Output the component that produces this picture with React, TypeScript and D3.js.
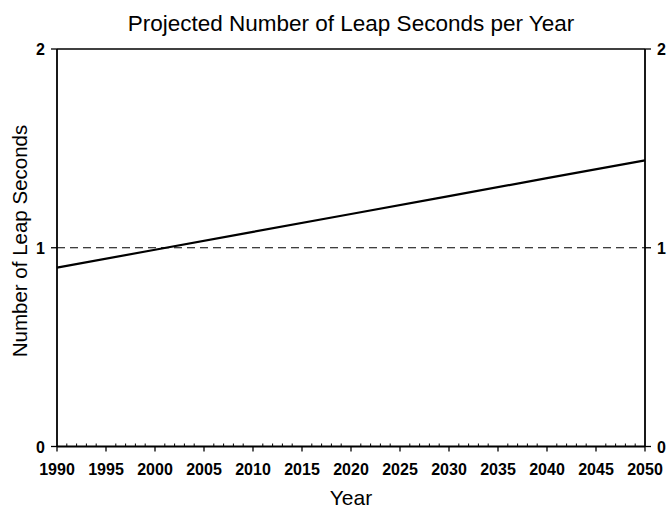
import React from "react";
import * as d3 from "d3";

const years = [1990, 2000, 2010, 2020, 2030, 2040, 2050];
const leapSeconds = [0.9, 0.99, 1.08, 1.17, 1.26, 1.35, 1.44];
const xTicks = [1990, 1995, 2000, 2005, 2010, 2015, 2020, 2025, 2030, 2035, 2040, 2045, 2050];
const yTicks = [0, 1, 2];
const referenceValue = 1;

const W = 668, H = 510;
const L = 57, R = 645, T = 49, B = 446.5;

export default function App() {
  const x = d3.scaleLinear().domain([1990, 2050]).range([L, R]);
  const y = d3.scaleLinear().domain([0, 2]).range([B, T]);
  const line = d3.line<number>().x((_, i) => x(years[i])).y((d) => y(d));
  const minor = d3.range(1990, 2051, 1).filter((v) => v % 5 !== 0);
  const font = "Liberation Sans, Arial, sans-serif";
  return (
    <svg width={W} height={H} style={{ position: "absolute", left: 0, top: 0, background: "#fff" }} fontFamily={font}>
      <text x={351} y={31} textAnchor="middle" fontSize={22.5} fill="#000">
        Projected Number of Leap Seconds per Year
      </text>
      {/* frame */}
      <line x1={L} x2={R} y1={T} y2={T} stroke="#000" strokeWidth={1.3} />
      <line x1={L} x2={R} y1={B} y2={B} stroke="#000" strokeWidth={1.8} />
      <line x1={L} x2={L} y1={T} y2={B} stroke="#000" strokeWidth={1.8} />
      <line x1={R} x2={R} y1={T} y2={B} stroke="#000" strokeWidth={1.8} />
      {/* x ticks */}
      {xTicks.map((t) => (
        <g key={t}>
          <line x1={x(t)} x2={x(t)} y1={B} y2={B + 5} stroke="#000" strokeWidth={1.3} />
          <text x={x(t)} y={475} textAnchor="middle" fontSize={16} fontWeight="bold" fill="#000">{t}</text>
        </g>
      ))}
      {minor.map((t) => (
        <line key={t} x1={x(t)} x2={x(t)} y1={B} y2={B - 3} stroke="#000" strokeWidth={1} />
      ))}
      {/* y ticks */}
      {yTicks.map((t) => (
        <g key={t}>
          <line x1={L - 6} x2={L} y1={y(t)} y2={y(t)} stroke="#000" strokeWidth={1.3} />
          <line x1={R} x2={R + 6} y1={y(t)} y2={y(t)} stroke="#000" strokeWidth={1.3} />
          <text x={45} y={y(t) + 6} textAnchor="end" fontSize={16} fontWeight="bold" fill="#000">{t}</text>
          <text x={657} y={y(t) + 6} textAnchor="start" fontSize={16} fontWeight="bold" fill="#000">{t}</text>
        </g>
      ))}
      {/* reference */}
      <line x1={L} x2={R} y1={y(referenceValue)} y2={y(referenceValue)} stroke="#000" strokeWidth={1.2} strokeDasharray="8,5" />
      <path d={line(leapSeconds) || ""} fill="none" stroke="#000" strokeWidth={2.2} />
      <text x={351} y={505} textAnchor="middle" fontSize={21} fill="#000">Year</text>
      <text transform={`translate(27,${241}) rotate(-90)`} textAnchor="middle" fontSize={20.5} fill="#000">
        Number of Leap Seconds
      </text>
    </svg>
  );
}
